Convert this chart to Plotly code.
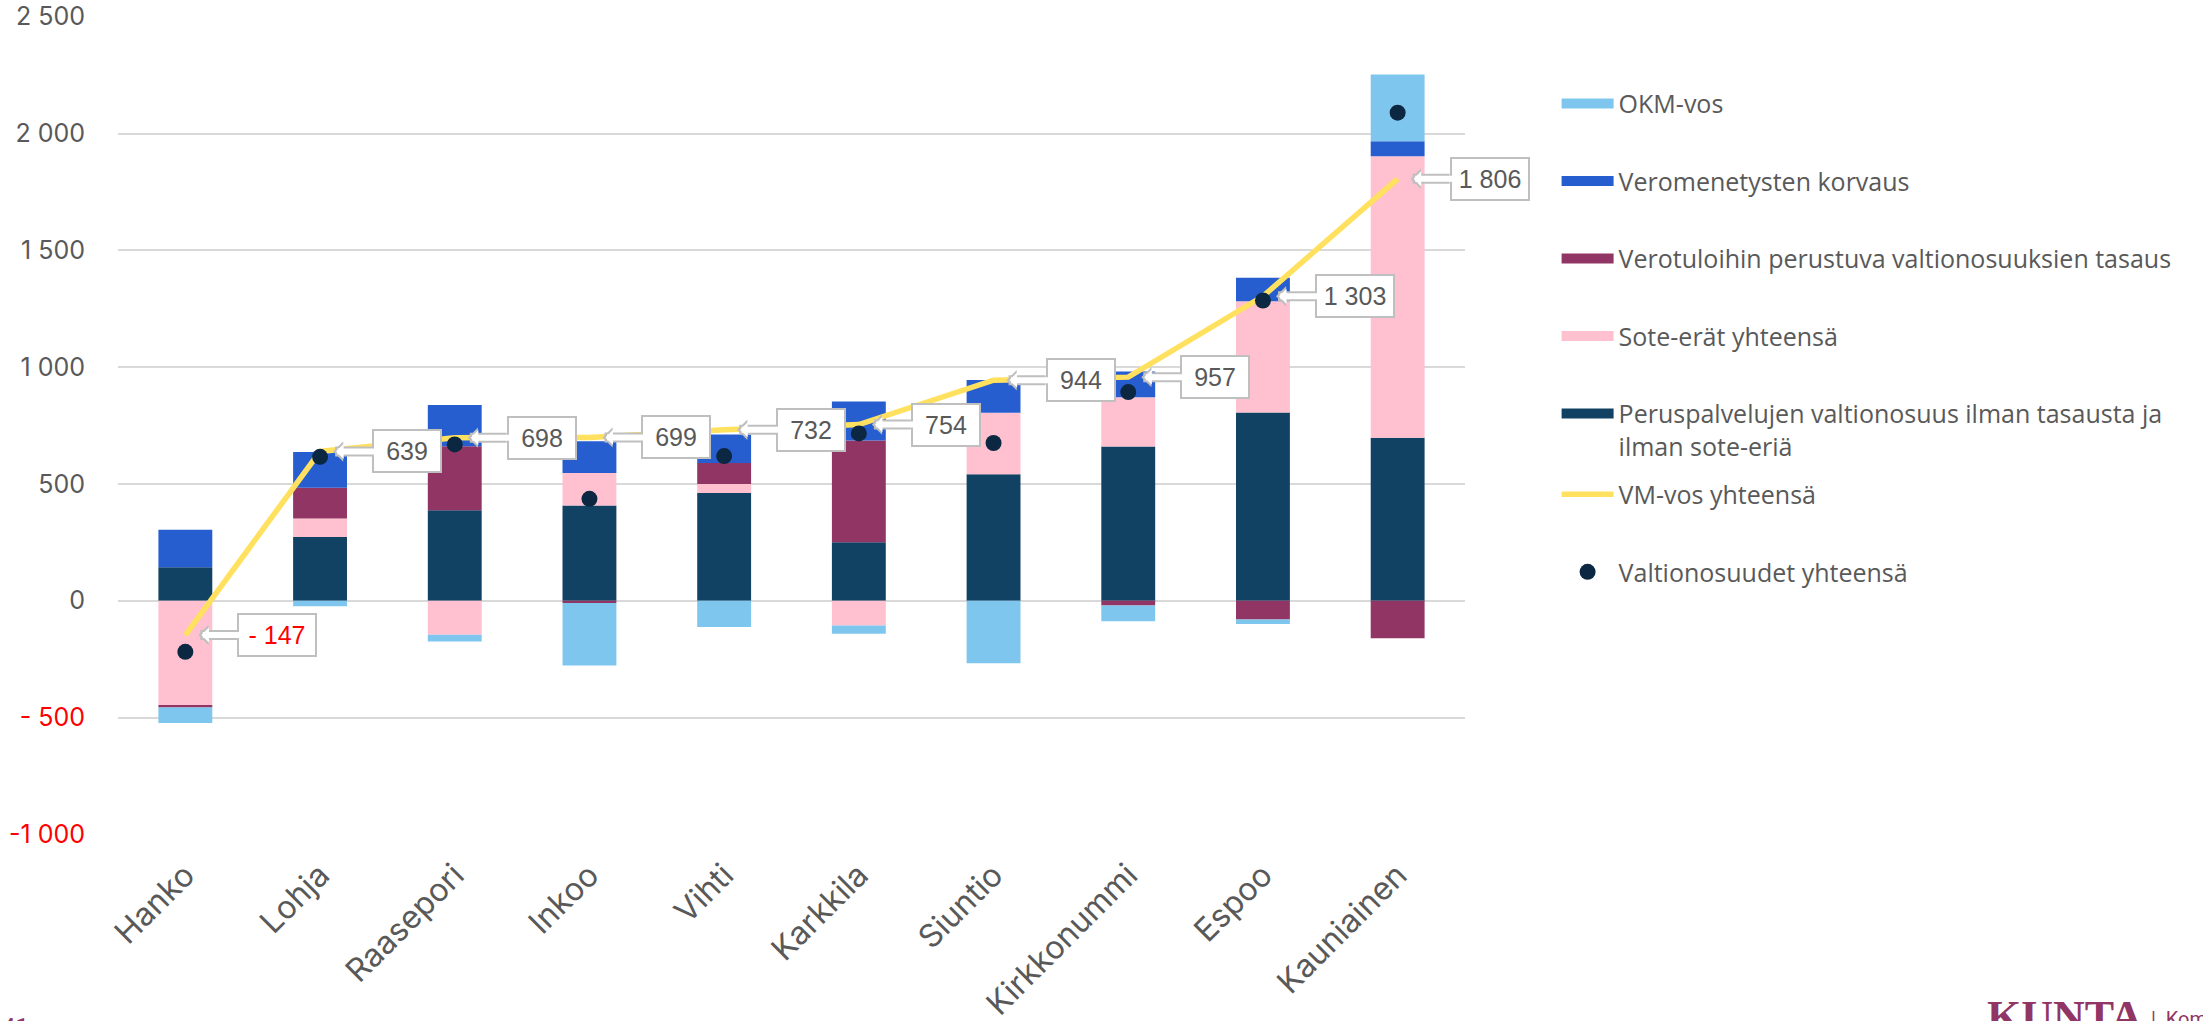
import plotly.graph_objects as go

# ---------------- data ----------------
categories = ["Hanko", "Lohja", "Raasepori", "Inkoo", "Vihti",
              "Karkkila", "Siuntio", "Kirkkonummi", "Espoo", "Kauniainen"]
peruspalvelut = [143, 273, 387, 407, 461, 250, 541, 660, 806, 698]
sote_erat = [-446, 79, -146, 140, 39, -106, 264, 211, 476, 1205]
tasaus = [-11, 131, 274, -10, 90, 436, 0, -21, -80, -161]
veromenetys = [161, 154, 177, 136, 121, 167, 140, 110, 100, 64]
okm_vos = [-67, -24, -29, -267, -113, -36, -268, -67, -20, 286]
vm_vos = [-147, 639, 698, 699, 732, 754, 944, 957, 1303, 1806]
valtionosuudet = [-219, 616, 669, 436, 619, 716, 675, 893, 1285, 2089]
ytick_vals = [-1000, -500, 0, 500, 1000, 1500, 2000, 2500]
ytick_text = ["-1 000", "- 500", "0", "500", "1 000", "1 500", "2 000", "2 500"]

# ---------------- styles ----------------
C_PERUS = "#124263"
C_SOTE = "#FFC0CF"
C_TASAUS = "#913565"
C_VERO = "#265ED0"
C_OKM = "#7FC6EE"
C_LINE = "#FFE15F"
C_DOT = "#0B2741"
GRAY_TXT = "#595959"
GRID = "#D9D9D9"
RED = "#FF0000"
BORDER = "#BFBFBF"

names = {
    "okm": "OKM-vos",
    "vero": "Veromenetysten korvaus",
    "tasaus": "Verotuloihin perustuva valtionosuuksien tasaus",
    "sote": "Sote-erät yhteensä",
    "perus": "Peruspalvelujen valtionosuus ilman tasausta ja<br>ilman sote-eriä",
    "vm": "VM-vos yhteensä",
    "valt": "Valtionosuudet yhteensä",
}


def fmt(v):
    s = f"{abs(v):,}".replace(",", " ")
    return ("- " + s) if v < 0 else s


fig = go.Figure()

# stacked bars (stack order from zero outwards)
for vals, col in [(peruspalvelut, C_PERUS), (sote_erat, C_SOTE), (tasaus, C_TASAUS),
                  (veromenetys, C_VERO), (okm_vos, C_OKM)]:
    fig.add_trace(go.Bar(x=categories, y=vals, marker=dict(color=col, line=dict(width=0)),
                         showlegend=False, hoverinfo="x+y"))

fig.add_trace(go.Scatter(x=categories, y=vm_vos, mode="lines",
                         line=dict(color=C_LINE, width=5.5), showlegend=False))
fig.add_trace(go.Scatter(x=categories, y=valtionosuudet, mode="markers",
                         marker=dict(color=C_DOT, size=16), showlegend=False))

# legend entries (wide swatches)
for key, col in [("okm", C_OKM), ("vero", C_VERO), ("tasaus", C_TASAUS),
                 ("sote", C_SOTE), ("perus", C_PERUS)]:
    fig.add_trace(go.Scatter(x=[None], y=[None], mode="lines", name=names[key],
                             line=dict(color=col, width=12), legend="legend",
                             legendgroup=key))
fig.add_trace(go.Scatter(x=[None], y=[None], mode="lines", name=names["vm"],
                         line=dict(color=C_LINE, width=5.5), legend="legend2",
                         legendgroup="vm"))
fig.add_trace(go.Scatter(x=[None], y=[None], mode="markers", name=names["valt"],
                         marker=dict(color=C_DOT, size=16), legend="legend2",
                         legendgroup="valt"))

# callout labels
annotations = []
for c, v in zip(categories, vm_vos):
    txt = fmt(v)
    col = RED if v < 0 else GRAY_TXT
    annotations.append(dict(
        x=c, y=v, xref="x", yref="y", text=txt, showarrow=True,
        ax=52, ay=0, axref="pixel", ayref="pixel", xanchor="left",
        arrowhead=1, arrowsize=0.34, arrowwidth=10, arrowcolor=BORDER, standoff=13,
        bgcolor="white", bordercolor=BORDER, borderwidth=2, borderpad=6,
        width=54 if len(txt) <= 3 else 64,
        font=dict(family="Liberation Sans, Arial, sans-serif", size=25, color=col)))
    annotations.append(dict(
        x=c, y=v, xref="x", yref="y", text=" ", showarrow=True,
        ax=56, ay=0, axref="pixel", ayref="pixel", xanchor="left",
        arrowhead=1, arrowsize=0.42, arrowwidth=6, arrowcolor="white", standoff=16,
        font=dict(size=4)))

# page number and logo
annotations.append(dict(x=-0.0876, y=-0.215, xref="paper", yref="paper", text="41",
                        showarrow=False, xanchor="left", yanchor="top",
                        font=dict(family="Roboto, sans-serif", size=24, color=C_TASAUS)))
annotations.append(dict(x=1.386, y=-0.189, xref="paper", yref="paper",
                        text="<b>KUNTA</b>", showarrow=False, xanchor="left", yanchor="top",
                        font=dict(family="Liberation Serif, DejaVu Serif, serif", size=44,
                                  color=C_TASAUS)))
annotations.append(dict(x=1.508, y=-0.2075, xref="paper", yref="paper",
                        text="|  Kommunförbundet", showarrow=False, xanchor="left",
                        yanchor="top",
                        font=dict(family="Roboto, sans-serif", size=20, color=C_TASAUS)))

legend_common = dict(x=1.068, xanchor="left", yanchor="top",
                     font=dict(family="Open Sans, sans-serif", size=25, color=GRAY_TXT),
                     tracegroupgap=42, itemwidth=52, valign="top",
                     bgcolor="rgba(0,0,0,0)", traceorder="grouped", itemclick=False)

fig.update_layout(
    width=2203, height=1021,
    margin=dict(l=118, r=738, t=16, b=186),
    barmode="relative", bargap=0.6,
    plot_bgcolor="white", paper_bgcolor="white",
    font=dict(family="Inter, Roboto, sans-serif", color=GRAY_TXT),
    annotations=annotations,
    legend=dict(y=0.921, **legend_common),
    legend2=dict(y=0.4437, **legend_common),
    showlegend=True,
)

fig.update_xaxes(type="category", range=[-0.5, len(categories) - 0.5], autorange=False,
                 tickangle=-45, tickfont=dict(family="Inter, Roboto, sans-serif", size=32,
                                              color=GRAY_TXT),
                 ticks="", showgrid=False, showline=False, ticklabelstandoff=14,
                 ticklabelshift=0, automargin=False)
fig.update_yaxes(range=[-1003, 2503], autorange=False, tickvals=ytick_vals,
                 ticktext=[f"<span style='color:{RED}'>{t}</span>" if v < 0 else t
                           for v, t in zip(ytick_vals, ytick_text)],
                 tickfont=dict(family="Inter, Roboto, sans-serif", size=25, color=GRAY_TXT),
                 showgrid=True, gridcolor=GRID, gridwidth=1.5,
                 zeroline=True, zerolinecolor=GRID, zerolinewidth=1.5,
                 showline=False, ticks="", ticklabelstandoff=32, automargin=False)

fig.write_html("out.html", config={"displayModeBar": False},
               post_script="document.body.style.margin='0';")
